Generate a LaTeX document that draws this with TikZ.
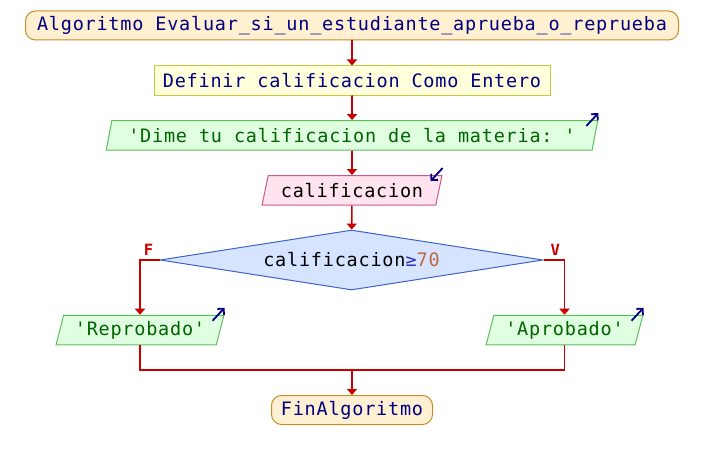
\documentclass[tikz,border=0pt]{standalone}
\usepackage{fontspec}
\setmonofont{DejaVu Sans Mono}[LetterSpace=4.2]
\newfontfamily\etiqfont{DejaVu Sans Mono}
\usepackage{tikz}
\usetikzlibrary{arrows.meta}
\usetikzlibrary{shapes.geometric}
\usetikzlibrary{calc,positioning}

\definecolor{azulosc}{RGB}{0,0,128}
\definecolor{verdetxt}{RGB}{0,100,0}
\definecolor{azulsig}{RGB}{50,50,190}
\definecolor{numcolor}{RGB}{190,105,60}
\definecolor{rojoflujo}{RGB}{200,0,0}
\definecolor{rellenoterm}{RGB}{255,240,210}
\definecolor{bordeterm}{RGB}{200,140,40}
\definecolor{rellenodef}{RGB}{255,255,220}
\definecolor{bordedef}{RGB}{200,200,60}
\definecolor{rellenosal}{RGB}{224,255,224}
\definecolor{bordesal}{RGB}{90,190,90}
\definecolor{rellenoent}{RGB}{255,228,240}
\definecolor{bordeent}{RGB}{200,90,140}
\definecolor{rellenocond}{RGB}{214,228,255}
\definecolor{bordecond}{RGB}{60,100,200}

\begin{document}
\begin{tikzpicture}[x=1pt, y=-1pt, >=Stealth,
    caja/.style={draw, line width=1pt, inner sep=0pt, font=\ttfamily\fontsize{18.5}{21}\selectfont},
    terminal/.style={caja, rounded corners=10pt, draw=bordeterm, fill=rellenoterm, text=azulosc, minimum height=29},
    proceso/.style={caja, draw=bordedef, fill=rellenodef, text=azulosc, minimum height=29},
    paralelo/.style={caja, trapezium, trapezium left angle=70, trapezium right angle=110,
        trapezium stretches=true, minimum height=29.5},
    salida/.style={paralelo, draw=bordesal, fill=rellenosal, text=verdetxt},
    entrada/.style={paralelo, draw=bordeent, fill=rellenoent, text=black},
    condicion/.style={caja, diamond, aspect=6.4, draw=bordecond, fill=rellenocond, text=black,
        minimum width=383, minimum height=60},
    flecha/.style={line width=1.6pt, draw=rojoflujo, -{Triangle[width=10pt,length=6pt]}},
    linea/.style={line width=1.6pt, draw=rojoflujo},
    icono/.style={line width=1.8pt, draw=azulosc, -{Straight Barb[length=4.5pt,width=9pt]}},
    rama/.style={text=rojoflujo, font=\etiqfont\bfseries\fontsize{15.5}{16}\selectfont, inner sep=0pt}
]

    \useasboundingbox (0,0) rectangle (704,460);

    \node[terminal, minimum width=653] (inicio) at (352,25.5)
        {Algoritmo Evaluar\_si\_un\_estudiante\_aprueba\_o\_reprueba};
    \node[proceso, minimum width=396] (definir) at (352,80.5) {Definir calificacion Como Entero};
    \node[salida, minimum width=492] (mensaje) at (352,135.3) {'Dime tu calificacion de la materia: '};
    \node[entrada, minimum width=180] (leer) at (352,190.3) {calificacion};
    \node[condicion] (cond) at (351.5,260) {calificacion{\color{azulsig}≥}{\color{numcolor}70}};
    \node[salida, minimum width=168] (reprobado) at (140,330) {'Reprobado'};
    \node[salida, minimum width=157] (aprobado) at (564.5,330) {'Aprobado'};
    \node[terminal, minimum width=161] (fin) at (352,410) {FinAlgoritmo};

    \coordinate (junta) at (352,370);

    % flujo principal
    \draw[flecha] (inicio) -- (definir);
    \draw[flecha] (definir) -- (mensaje);
    \draw[flecha] (mensaje) -- (leer);
    \draw[flecha] (leer) -- (cond);

    \draw[flecha] (cond.west) -| node[rama, pos=0.28, above=3.5pt]{F} (reprobado.north);
    \draw[flecha] (cond.east) -| node[rama, pos=0.28, above=3.5pt]{V} (aprobado.north);

    \draw[linea] (reprobado.south) |- (junta) -| (aprobado.south);
    \draw[flecha] (junta) -- (fin);

    % iconos de entrada y salida
    \draw[icono] ($(mensaje.top right corner)+(-12,6)$) -- ($(mensaje.top right corner)+(0,-7)$);
    \draw[icono] ($(leer.top right corner)+(0,-7)$) -- ($(leer.top right corner)+(-12,6)$);
    \draw[icono] ($(reprobado.top right corner)+(-12,6)$) -- ($(reprobado.top right corner)+(0,-7)$);
    \draw[icono] ($(aprobado.top right corner)+(-12,6)$) -- ($(aprobado.top right corner)+(0,-7)$);

\end{tikzpicture}
\end{document}
